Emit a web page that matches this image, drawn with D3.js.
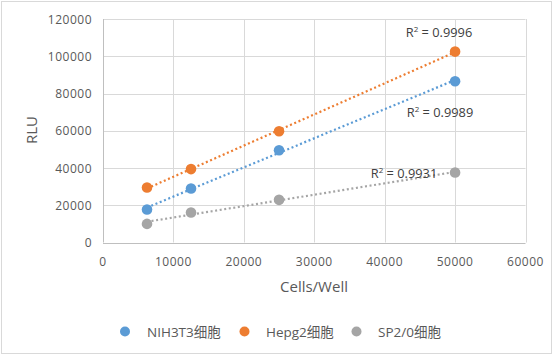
<!DOCTYPE html>
<html><head><meta charset="utf-8">
<script src="https://cdn.jsdelivr.net/npm/d3@7"></script>
<style>body{margin:0;background:#fff}svg{display:block}</style>
</head><body>
<svg id="c" width="553" height="356"></svg>
<script>
const cells = [6250, 12500, 25000, 50000];
const nih3t3 = [17700, 29000, 49500, 86600];
const hepg2 = [29500, 39400, 59700, 102500];
const sp20 = [10000, 16100, 22900, 37600];
const seriesNames = ["NIH3T3细胞", "Hepg2细胞", "SP2/0细胞"];
const r2Labels = ["0.9989", "0.9996", "0.9931"];
const xTicks = [0, 10000, 20000, 30000, 40000, 50000, 60000];
const yTicks = [0, 20000, 40000, 60000, 80000, 100000, 120000];
const colors = ["#5B9BD5", "#ED7D31", "#A5A5A5"];

const svg = d3.select("#c");
svg.append("rect").attr("x",1.5).attr("y",1.5).attr("width",550).attr("height",352)
  .attr("fill","#fff").attr("stroke","#d9d9d9");

const L=103, R=525.5, T=19, B=242.5;
const x = d3.scaleLinear().domain([0,60000]).range([L,R]);
const y = d3.scaleLinear().domain([0,120000]).range([B,T]);
const font = "'Open Sans', sans-serif";

// gridlines
svg.append("g").selectAll("line").data(yTicks.slice(1)).join("line")
  .attr("x1",L).attr("x2",R).attr("y1",d=>Math.round(y(d))+0.5).attr("y2",d=>Math.round(y(d))+0.5)
  .attr("stroke","#d9d9d9");
svg.append("g").selectAll("line").data(xTicks.slice(1)).join("line")
  .attr("y1",T).attr("y2",B).attr("x1",d=>Math.round(x(d))+0.5).attr("x2",d=>Math.round(x(d))+0.5)
  .attr("stroke","#d9d9d9");
// axes lines
svg.append("line").attr("x1",L+0.5).attr("x2",L+0.5).attr("y1",T).attr("y2",B).attr("stroke","#bfbfbf");
svg.append("line").attr("x1",L).attr("x2",R).attr("y1",Math.round(B)+0.5).attr("y2",Math.round(B)+0.5).attr("stroke","#bfbfbf");

// tick labels
svg.append("g").selectAll("text").data(yTicks).join("text")
  .attr("x",L-11).attr("y",d=>y(d)+4.5).attr("text-anchor","end")
  .attr("font-family",font).attr("font-size",12).attr("letter-spacing",0.5).attr("fill","#595959")
  .text(d=>d);
svg.append("g").selectAll("text").data(xTicks).join("text")
  .attr("x",d=>x(d)).attr("y",266).attr("text-anchor","middle")
  .attr("font-family",font).attr("font-size",12).attr("letter-spacing",0.5).attr("fill","#595959")
  .text(d=>d);

// axis titles
svg.append("text").attr("x",314).attr("y",292).attr("text-anchor","middle")
  .attr("font-family",font).attr("font-size",15).attr("fill","#595959").text("Cells/Well");
svg.append("text").attr("transform","translate(37,130) rotate(-90)").attr("text-anchor","middle")
  .attr("font-family",font).attr("font-size",15).attr("fill","#595959").text("RLU");

const data = [nih3t3, hepg2, sp20];
function fit(xs, ys){
  const n=xs.length, mx=d3.mean(xs), my=d3.mean(ys);
  let sxy=0,sxx=0; for(let i=0;i<n;i++){sxy+=(xs[i]-mx)*(ys[i]-my);sxx+=(xs[i]-mx)**2;}
  const b=sxy/sxx, a=my-b*mx; return v=>a+b*v;
}
// trendlines
data.forEach((ys,i)=>{
  const f=fit(cells,ys), x0=d3.min(cells), x1=d3.max(cells);
  svg.append("line").attr("x1",x(x0)).attr("y1",y(f(x0))).attr("x2",x(x1)).attr("y2",y(f(x1)))
    .attr("stroke",colors[i]).attr("stroke-width",2.2).attr("stroke-dasharray","2 2.6");
});
// markers
data.forEach((ys,i)=>{
  svg.append("g").selectAll("circle").data(ys).join("circle")
    .attr("cx",(d,j)=>x(cells[j])).attr("cy",d=>y(d)).attr("r",5.3).attr("fill",colors[i]);
});

// R² labels
const r2Pos = [[440,117],[439,37],[404,178]];
r2Labels.forEach((t,i)=>{
  const tx = svg.append("text").attr("x",r2Pos[i][0]).attr("y",r2Pos[i][1]).attr("text-anchor","middle")
    .attr("font-family",font).attr("font-size",12.8).attr("fill","#404040");
  tx.append("tspan").text("R");
  tx.append("tspan").attr("font-size",8).attr("dy",-5).text("2");
  tx.append("tspan").attr("dy",5).text(" = "+t);
});

// legend
const legX = [[125,147],[244.5,266],[356.5,378]];
seriesNames.forEach((n,i)=>{
  svg.append("circle").attr("cx",legX[i][0]).attr("cy",331.5).attr("r",5).attr("fill",colors[i]);
  svg.append("text").attr("x",legX[i][1]).attr("y",336.5).attr("font-family","'Open Sans','Noto Sans CJK SC',sans-serif")
    .attr("font-size",13.5).attr("fill","#595959").text(n);
});
</script>
</body></html>
